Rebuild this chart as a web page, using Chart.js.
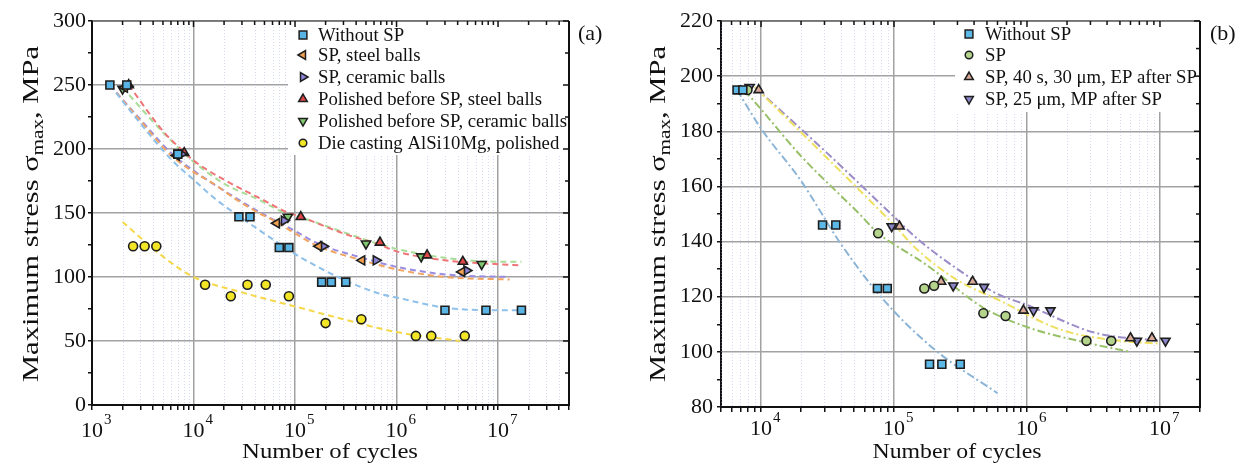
<!DOCTYPE html>
<html>
<head>
<meta charset="utf-8">
<script src="https://cdn.jsdelivr.net/npm/chart.js@4/dist/chart.umd.min.js"></script>
<style>
html, body { margin: 0; padding: 0; background: #fff; }
#wrap { position: relative; width: 1243px; height: 466px; }
#box_a { position: absolute; left: 0; top: 0; }
#box_b { position: absolute; left: 620px; top: 0; }
</style>
</head>
<body>
<div id="wrap">
  <div id="box_a"><canvas id="chart_a" width="620" height="466"></canvas></div>
  <div id="box_b"><canvas id="chart_b" width="623" height="466"></canvas></div>
</div>
<script>
var FONT = '"Liberation Serif", "Times New Roman", serif';

// ---------- panel (a) : [cycles, MPa] ----------
var a_without     = [[1500,250],[2200,250],[7000,196],[28000,147],[36000,147],[70000,123],[87000,123],[183000,96],[228000,96],[316000,96],[3.0e6,74],[7.6e6,74],[1.7e7,74]];
var a_steel       = [[2100,248],[6800,195],[66000,142],[172000,124],[457000,113],[4.4e6,104]];
var a_ceramic     = [[2250,249],[7600,196],[78000,144],[190000,124],[627000,113],[4.9e6,105]];
var a_pol_steel   = [[2300,250],[8100,197],[114000,147],[687000,127],[2.0e6,117],[4.5e6,112]];
var a_pol_ceramic = [[2000,247],[7200,197],[85000,147],[500000,126],[1.75e6,116],[6.9e6,110]];
var a_die         = [[2540,124],[3300,124],[4300,124],[13000,94],[23300,85],[34000,94],[51500,94],[87000,85],[200000,64],[450000,67],[1.55e6,54],[2.2e6,54],[4.7e6,54]];

var a_fit_without     = [[1500,250],[3000,220],[6000,192],[1e4,176],[1.7e4,160],[3e4,146],[7e4,126],[1.1e5,116],[3e5,98],[6.8e5,87],[1e6,84],[3e6,76],[1e7,74],[1.7e7,74]];
var a_fit_steel       = [[1500,250],[3000,222],[6000,195],[1.05e4,181],[1.5e4,174],[2.7e4,160],[4.4e4,150],[6.6e4,143],[1e5,134],[1.7e5,124],[4.6e5,113],[1e6,106],[3e6,100],[1.3e7,98]];
var a_fit_ceramic     = [[1500,250],[3000,223],[6000,197],[1.05e4,182],[2.7e4,161],[4.4e4,151],[1e5,136],[1.7e5,126],[4.6e5,115],[1e6,108],[3e6,102],[1.3e7,100]];
var a_fit_pol_steel   = [[2300,250],[5000,214],[8000,198],[1e4,191],[2e4,176],[4.9e4,160],[8.1e4,151],[1.14e5,147],[3e5,134],[6.9e5,125],[1e6,120],[3e6,113],[1e7,110],[1.7e7,109]];
var a_fit_pol_ceramic = [[2000,248],[5000,213],[8000,197],[1e4,190],[2e4,173],[4.5e4,160],[8e4,150],[1.1e5,147],[3e5,135],[6e5,127],[1e6,122],[3e6,115],[1e7,112],[1.7e7,112]];
var a_fit_die         = [[2000,143],[5000,116],[1e4,100],[3e4,88],[1e5,77],[3e5,67],[1e6,57],[4.2e6,50]];

var a_decades = [1e3, 1e4, 1e5, 1e6, 1e7];
var a_legend = ['Without SP', 'SP, steel balls', 'SP, ceramic balls', 'Polished before SP, steel balls', 'Polished before SP, ceramic balls', 'Die casting AlSi10Mg, polished'];

// ---------- panel (b) ----------
var b_without = [[6600,195],[7300,195],[29000,146],[36500,146],[75000,123],[89000,123],[185000,95.5],[229000,95.5],[315000,95.5]];
var b_sp      = [[7900,195],[76000,143],[169000,123],[200000,124],[470000,114],[690000,113],[2.8e6,104],[4.3e6,104]];
var b_ep      = [[9600,195],[110000,145.5],[226000,125.5],[390000,125.5],[940000,115],[6.0e6,105],[8.7e6,105]];
var b_mp      = [[8200,196],[96000,145.5],[279000,124],[475000,123.5],[1.12e6,115],[1.5e6,115],[6.7e6,104],[1.1e7,104]];

var b_fit_without = [[6600,195],[1e4,181],[2e4,162],[4e4,139],[8.3e4,119],[2e5,101],[6e5,85]];
var b_fit_sp      = [[7500,195],[1e4,188],[2e4,171],[5.5e4,150],[7.6e4,143],[1e5,139],[1.7e5,132],[4.7e5,116],[1e6,109],[3e6,103],[6e6,100]];
var b_fit_ep      = [[9000,196],[2.5e4,175],[1e5,146],[1.5e5,137],[3e5,126],[6e5,119],[1.8e6,108],[5e6,104],[1e7,103]];
var b_fit_mp      = [[9000,196],[3e4,173],[1e5,149],[1.5e5,141],[3e5,130],[6e5,121],[1e6,117],[3.2e6,107],[1e7,104]];

var b_decades = [1e4, 1e5, 1e6, 1e7];
var b_legend = ['Without SP', 'SP', 'SP, 40 s, 30 \u03bcm, EP after SP', 'SP, 25 \u03bcm, MP after SP'];


function pts(arr) {
	return arr.map(function(p) { return {x: p[0], y: p[1]}; });
}

function logTicks(min, max) {
	var out = [];
	for (var e = Math.floor(Math.log10(min)); Math.pow(10, e) <= max; e++) {
		for (var m = 1; m < 10; m++) {
			var v = m * Math.pow(10, e);
			if (v >= min * 0.999 && v <= max * 1.001) out.push(v);
		}
	}
	return out;
}

function isDecade(v) {
	var l = Math.log10(v);
	return Math.abs(l - Math.round(l)) < 1e-6;
}

function drawMarker(c, m, x, y, r) {
	c.save();
	c.beginPath();
	if (m.style === 'rect') {
		var s = r * Math.SQRT1_2;
		c.rect(x - s, y - s, 2 * s, 2 * s);
	} else if (m.style === 'circle') {
		c.arc(x, y, r, 0, Math.PI * 2);
	} else {
		var a = (m.rot || 0) * Math.PI / 180;
		for (var i = 0; i < 3; i++) {
			var t = a + i * 2 * Math.PI / 3;
			var px = x + Math.sin(t) * r, py = y - Math.cos(t) * r;
			if (i) c.lineTo(px, py); else c.moveTo(px, py);
		}
		c.closePath();
	}
	c.fillStyle = m.fill;
	c.fill();
	c.lineWidth = 1.5;
	c.strokeStyle = '#1e1e1e';
	c.stroke();
	c.restore();
}

// text stretched to a given length (the figure's lettering is a bit wider than Liberation Serif)
function stretchText(c, parts, cx, cy, target, rotate) {
	c.save();
	c.translate(cx, cy);
	if (rotate) c.rotate(-Math.PI / 2);
	var total = 0;
	parts.forEach(function(p) { c.font = p.size + 'px ' + FONT; p.w = c.measureText(p.t).width; total += p.w; });
	c.scale(target / total, 1);
	var x = -total / 2;
	c.textAlign = 'left';
	c.textBaseline = 'alphabetic';
	parts.forEach(function(p) {
		c.font = p.size + 'px ' + FONT;
		c.fillText(p.t, x, p.dy);
		x += p.w;
	});
	c.restore();
}

function decor(p) {
	return {
		id: 'decor',
		beforeDatasetsDraw: function(chart) {
			var c = chart.ctx, a = chart.chartArea, xs = chart.scales.x;
			c.save();
			c.strokeStyle = 'rgba(165,175,230,0.45)';
			c.lineWidth = 1;
			c.setLineDash([1, 2]);
			xs.ticks.forEach(function(t) {
				if (isDecade(t.value)) return;
				var x = Math.round(xs.getPixelForValue(t.value)) + 0.5;
				c.beginPath(); c.moveTo(x, a.top); c.lineTo(x, a.bottom); c.stroke();
			});
			c.restore();
			// legend background hides the grid
			c.fillStyle = '#fff';
			c.fillRect(p.legBox[0], p.legBox[1], p.legBox[2] - p.legBox[0], p.legBox[3] - p.legBox[1]);
		},
		afterDraw: function(chart) {
			var c = chart.ctx, a = chart.chartArea, xs = chart.scales.x, ys = chart.scales.y;
			c.save();
			// frame top + right
			c.strokeStyle = '#666';
			c.lineWidth = 1.5;
			c.beginPath(); c.moveTo(a.left, a.top); c.lineTo(a.right, a.top); c.stroke();
			c.strokeStyle = '#111';
			c.lineWidth = 2;
			c.beginPath(); c.moveTo(a.right, a.top); c.lineTo(a.right, a.bottom + 1); c.stroke();
			c.lineWidth = 1.5;
			xs.ticks.forEach(function(t) {
				var x = xs.getPixelForValue(t.value), L = isDecade(t.value) ? 6 : 4;
				c.beginPath(); c.moveTo(x, a.top); c.lineTo(x, a.top + L); c.stroke();
			});
			ys.ticks.forEach(function(t) {
				var y = ys.getPixelForValue(t.value), L = (t.value % p.ymajor === 0) ? 6 : 4;
				c.beginPath(); c.moveTo(a.right, y); c.lineTo(a.right - L, y); c.stroke();
			});
			// x tick labels 10^n
			c.fillStyle = '#111';
			c.textBaseline = 'alphabetic';
			p.decades.forEach(function(d) {
				var x = xs.getPixelForValue(d);
				c.font = '22px ' + FONT;
				c.textAlign = 'center';
				var w = c.measureText('10').width;
				c.fillText('10', x, p.xlabBase);
				c.font = '15px ' + FONT;
				c.textAlign = 'left';
				c.fillText(String(Math.round(Math.log10(d))), x + w / 2 + 1, p.xlabBase - 13);
			});
			// axis titles
			stretchText(c, [{t: 'Number of cycles', size: 22, dy: 0}], p.xTitleX, 458, p.xTitleW, false);
			stretchText(c, [
				{t: 'Maximum stress \u03c3', size: 23, dy: 8},
				{t: 'max', size: 16, dy: 13},
				{t: ', MPa', size: 23, dy: 8}
			], p.yTitleX, p.yTitleY, p.yTitleW, true);
			// legend
			c.font = '18px ' + FONT;
			c.textAlign = 'left';
			c.textBaseline = 'middle';
			p.marks.forEach(function(m, i) {
				drawMarker(c, m, p.legX, p.legY[i], m.style === 'rect' ? 5.5 : (m.style === 'circle' ? 3.8 : 5));
				c.fillStyle = '#111';
				c.save();
				c.translate(p.legTX, p.legY[i] + 1);
				c.scale(1.04, 1);
				c.fillText(p.legend[i], 0, 0);
				c.restore();
			});
			// panel tag
			c.font = '22px ' + FONT;
			c.textBaseline = 'alphabetic';
			c.fillText(p.tag, p.tagX, 40);
			c.restore();
		}
	};
}

function render_panel(id, p) {
	var ctx = document.getElementById(id).getContext('2d');
	var datasets = [];
	p.marks.forEach(function(m) {
		datasets.push({
			data: pts(m.data), pointStyle: m.style, rotation: m.rot || 0,
			pointRadius: m.r, backgroundColor: m.fill, borderColor: '#1e1e1e',
			borderWidth: 1.6, showLine: false, order: 1
		});
	});
	p.fits.forEach(function(f) {
		datasets.push({
			data: pts(f.data), showLine: true, borderColor: f.color, borderWidth: 2,
			borderDash: p.dash, pointRadius: 0, cubicInterpolationMode: 'monotone',
			fill: false, order: 2
		});
	});
	var xt = logTicks(p.xmin, p.xmax);
	new Chart(ctx, {
		type: 'scatter',
		data: {datasets: datasets},
		options: {
			responsive: false,
			animation: false,
			events: [],
			layout: {padding: p.pad},
			plugins: {legend: {display: false}, tooltip: {enabled: false}},
			scales: {
				x: {
					type: 'logarithmic', min: p.xmin, max: p.xmax,
					afterBuildTicks: function(s) { s.ticks = xt.map(function(v) { return {value: v}; }); },
					afterFit: function(s) { s.height = p.xH; },
					ticks: {display: false},
					grid: {
						color: function(c) { return c.tick && isDecade(c.tick.value) ? '#a2a2a2' : 'rgba(0,0,0,0)'; },
						lineWidth: 1.5, tickLength: 5, tickColor: '#111', tickWidth: 1.5
					},
					border: {color: '#111', width: 2}
				},
				y: {
					min: p.ymin, max: p.ymax,
					afterFit: function(s) { s.width = p.yW; },
					ticks: {
						stepSize: p.ystep, autoSkip: false, padding: p.ypad, color: '#111',
						font: {family: FONT, size: 22},
						callback: function(v) { return v % p.ymajor === 0 ? String(v) : ''; }
					},
					grid: {
						color: function(c) { return c.tick && c.tick.value % p.ymajor === 0 ? '#a2a2a2' : 'rgba(0,0,0,0)'; },
						lineWidth: 1.5, tickLength: 4, tickColor: '#111', tickWidth: 1.5
					},
					border: {color: '#111', width: 2}
				}
			}
		},
		plugins: [decor(p)]
	});
}

render_panel('chart_a', {
	xmin: 1e3, xmax: 5e7, ymin: 0, ymax: 300, ystep: 25, ymajor: 50, ypad: 2,
	pad: {left: 0, top: 21, right: 51, bottom: 0}, yW: 92, xH: 61,
	dash: [6, 4], decades: a_decades, legend: a_legend,
	marks: [
		{data: a_without, style: 'rect', r: 5.6, fill: '#58b4e4'},
		{data: a_steel, style: 'triangle', rot: -90, r: 5.3, fill: '#f0a050'},
		{data: a_ceramic, style: 'triangle', rot: 90, r: 5.3, fill: '#8c84d8'},
		{data: a_pol_steel, style: 'triangle', rot: 0, r: 5.3, fill: '#e04848'},
		{data: a_pol_ceramic, style: 'triangle', rot: 180, r: 5.3, fill: '#80c870'},
		{data: a_die, style: 'circle', r: 4.5, fill: '#f2e626'}
	],
	fits: [
		{data: a_fit_without, color: '#8ec0ea'},
		{data: a_fit_steel, color: '#f2a462'},
		{data: a_fit_ceramic, color: '#9a8ce0'},
		{data: a_fit_pol_steel, color: '#f07478'},
		{data: a_fit_pol_ceramic, color: '#a8dc98'},
		{data: a_fit_die, color: '#f5d84a'}
	],
	legBox: [288, 22, 568, 155], legX: 303, legTX: 318, legY: [35, 55, 77, 99, 121, 143],
	tag: '(a)', tagX: 578, xTitleX: 330, xTitleW: 176, yTitleX: 30, yTitleY: 214, yTitleW: 336, xlabBase: 437
});

render_panel('chart_b', {
	xmin: 5e3, xmax: 2e7, ymin: 80, ymax: 220, ystep: 10, ymajor: 20, ypad: 4,
	pad: {left: 0, top: 21, right: 43, bottom: 0}, yW: 101, xH: 59,
	dash: [8, 3, 2, 3], decades: b_decades, legend: b_legend,
	marks: [
		{data: b_without, style: 'rect', r: 5.6, fill: '#5cb8e6'},
		{data: b_sp, style: 'circle', r: 4.5, fill: '#b4d48c'},
		{data: b_ep, style: 'triangle', rot: 0, r: 5.3, fill: '#d8a898'},
		{data: b_mp, style: 'triangle', rot: 180, r: 5.3, fill: '#8a86c8'}
	],
	fits: [
		{data: b_fit_without, color: '#8cb4d6'},
		{data: b_fit_sp, color: '#98c068'},
		{data: b_fit_ep, color: '#f0e060'},
		{data: b_fit_mp, color: '#9c8cc8'}
	],
	legBox: [335, 22, 579, 112], legX: 349, legTX: 365, legY: [34, 55, 77, 99],
	tag: '(b)', tagX: 590, xTitleX: 337, xTitleW: 169, yTitleX: 37, yTitleY: 214, yTitleW: 336, xlabBase: 435
});
</script>
</body>
</html>
